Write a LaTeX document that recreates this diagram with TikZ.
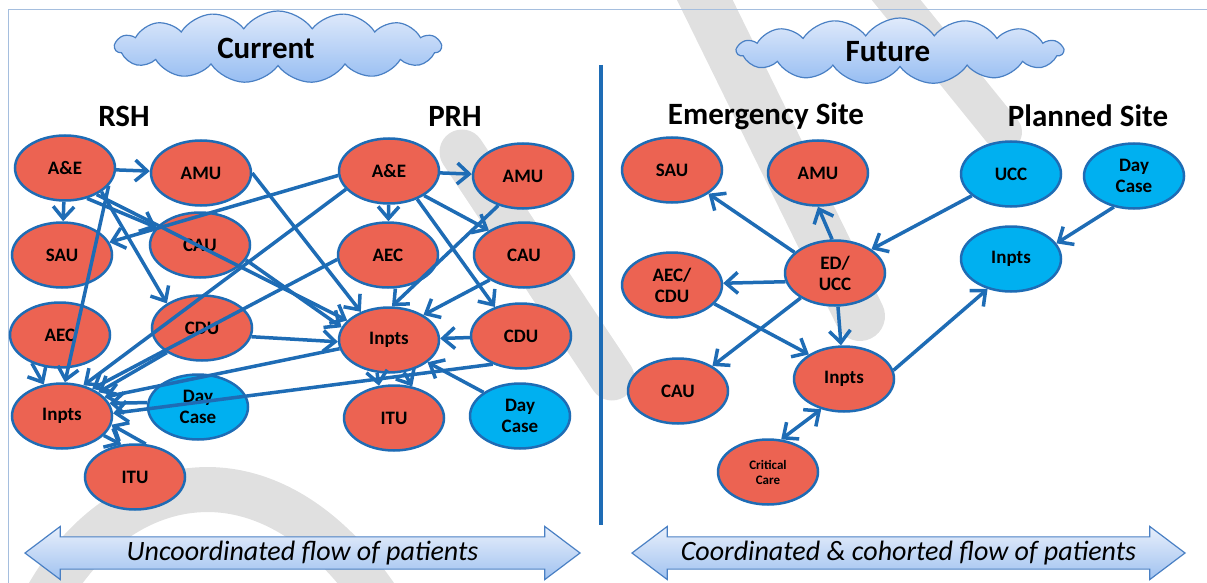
\documentclass[tikz,border=0pt]{standalone}
\usepackage{fontspec}
\setmainfont{Carlito}
\usetikzlibrary{shapes.geometric,shapes.symbols,shapes.arrows,arrows.meta}

\definecolor{unitred}{RGB}{236,99,82}
\definecolor{siteblue}{RGB}{0,176,240}
\definecolor{linkblue}{RGB}{30,108,181}
\definecolor{framegrey}{RGB}{165,190,222}
\definecolor{cloudtop}{RGB}{224,234,251}
\definecolor{cloudbottom}{RGB}{150,189,242}
\definecolor{cloudedge}{RGB}{74,128,196}
\definecolor{bandtop}{RGB}{232,239,251}
\definecolor{bandbottom}{RGB}{160,194,240}
\definecolor{markgrey}{RGB}{224,224,224}

\tikzset{
  unit/.style={ellipse, draw=linkblue, line width=2.5pt, fill=unitred,
    minimum width=100pt, minimum height=65pt, inner sep=0pt, align=center,
    font=\fontsize{19}{21}\selectfont\bfseries},
  siteunit/.style={unit, fill=siteblue},
  smallunit/.style={unit, font=\fontsize{13}{15}\selectfont\bfseries},
  flow/.style={draw=linkblue, line width=3.5pt,
    -{Straight Barb[length=12pt,width=21pt]}},
  twoway/.style={draw=linkblue, line width=3.5pt,
    {Straight Barb[length=12pt,width=21pt]}-{Straight Barb[length=12pt,width=21pt]}},
  heading/.style={font=\fontsize{31}{34}\selectfont\bfseries},
  cloudbox/.style={cloud, cloud puffs=15, cloud puff arc=110, aspect=5,
    draw=cloudedge, line width=1.2pt, top color=cloudtop,
    bottom color=cloudbottom, minimum width=326pt},
  flowband/.style={double arrow, double arrow tip angle=74,
    double arrow head extend=10pt, minimum width=53pt, inner ysep=3pt,
    draw=cloudedge, line width=1.2pt, top color=bandtop,
    bottom color=bandbottom, font=\fontsize{28}{30}\selectfont\itshape},
  watermark/.style={draw=markgrey, line cap=round}
}

\begin{document}
\begin{tikzpicture}[x=1pt,y=-1pt]
  \useasboundingbox (0,0) rectangle (1207,583);
  % watermark
  \draw[watermark, line width=45pt] (462,152) -- (612,378);
  \draw[watermark, line width=50pt] (695,-20) -- (860,316);
  \draw[watermark, line width=38pt] (880,-20) -- (1003,132);
  \draw[watermark, line width=45pt] (40,610) .. controls (110,470) and (270,430) .. (385,610);
  \draw[framegrey, line width=1pt] (8,583) -- (8,10) -- (1207,10);

  % titles
  \node[cloudbox, minimum height=72pt] (nowcloud) at (278,47) {};
  \node[heading] (nowtitle) at (266,48) {Current};
  \node[cloudbox, minimum height=66pt] (nextcloud) at (900,51) {};
  \node[heading] (nexttitle) at (888,52) {Future};
  \node[heading] (rshtitle) at (124,116) {RSH};
  \node[heading] (prhtitle) at (455,116) {PRH};
  \node[heading] (emtitle) at (766,116) {Emergency Site};
  \node[heading] (pltitle) at (1088,116) {Planned Site};

  % divider
  \coordinate (divtop) at (601,65);
  \coordinate (divfoot) at (601,525);
  \draw[linkblue, line width=4pt] (divtop) -- (divfoot);

  % RSH
  \node[unit] (rshAE) at (65,168) {A\&E};
  \node[unit] (rshAMU) at (201,173) {AMU};
  \node[unit] (rshSAU) at (62,255) {SAU};
  \node[unit] (rshCAU) at (200,245) {CAU};
  \node[unit] (rshAEC) at (60,335) {AEC};
  \node[unit] (rshCDU) at (202,328) {CDU};
  \node[unit] (rshIN) at (62,416) {Inpts};
  \node[siteunit] (rshDC) at (198,407) {Day\\Case};
  \node[unit] (rshITU) at (135,477) {ITU};

  % PRH
  \node[unit] (prhAE) at (389,171) {A\&E};
  \node[unit] (prhAMU) at (523,176) {AMU};
  \node[unit] (prhAEC) at (388,255) {AEC};
  \node[unit] (prhCAU) at (524,255) {CAU};
  \node[unit] (prhIN) at (389,340) {Inpts};
  \node[unit] (prhCDU) at (521,336) {CDU};
  \node[unit] (prhITU) at (394,418) {ITU};
  \node[siteunit] (prhDC) at (520,416) {Day\\Case};

  % emergency site
  \node[unit] (emSAU) at (672,170) {SAU};
  \node[unit] (emAMU) at (818,173) {AMU};
  \node[unit] (emAEC) at (672,285) {AEC/\\CDU};
  \node[unit] (emED) at (835,273) {ED/\\UCC};
  \node[unit] (emCAU) at (678,391) {CAU};
  \node[unit] (emIN) at (844,379) {Inpts};
  \node[smallunit] (emCC) at (768,472) {Critical\\Care};

  % planned site
  \node[siteunit] (plUCC) at (1011,174) {UCC};
  \node[siteunit] (plDC) at (1134,176) {Day\\Case};
  \node[siteunit] (plIN) at (1011,259) {Inpts};

  % current flows
  \draw[flow] (rshAE) -- (rshAMU);
  \draw[flow] (rshAE) -- (rshSAU);
  \draw[flow] (rshAE.-54) -- (rshCAU.158);
  \draw[flow] (rshAE.-33) -- (rshCDU.145);
  \draw[flow] (rshAE.-40) -- (prhIN.155);
  \draw[flow] (rshAE.-22) -- (rshIN.85);
  \draw[flow] (rshAEC.-135) -- (rshIN.120);
  \draw[flow] (rshAMU.east) -- (prhIN.135);
  \draw[flow] (rshCAU.-18) -- (prhIN.165);
  \draw[flow] (rshCDU.-10) -- (prhIN.182);
  \draw[flow] (prhAE.185) -- (rshSAU.15);
  \draw[flow] (prhAE.203) -- (rshIN.55);
  \draw[flow] (prhAEC.185) -- (rshIN.42);
  \draw[flow] (rshCDU.215) -- (rshIN.33);
  \draw[flow] (prhIN.190) -- (rshIN.24);
  \draw[flow] (rshDC.175) -- (rshIN.15);
  \draw[flow] (prhCDU.225) -- (rshIN.3);
  \draw[flow] (rshITU.72) -- (rshIN.-10);
  \draw[flow] (rshIN.-25) -- (rshITU.113);
  \draw[flow] (prhAE) -- (prhAMU);
  \draw[flow] (prhAE) -- (prhAEC);
  \draw[flow] (prhAE.-35) -- (prhCAU.145);
  \draw[flow] (prhAE.-45) -- (prhCDU.132);
  \draw[flow] (prhAMU.230) -- (prhIN.85);
  \draw[flow] (prhCAU.216) -- (prhIN.36);
  \draw[flow] (prhCDU) -- (prhIN);
  \draw[flow] (prhDC.147) -- (prhIN.-30);
  \draw[flow] (prhIN.-110) -- (prhITU.115);
  \draw[flow] (prhIN.-65) -- (prhITU.60);

  % future flows
  \draw[flow] (emED.153) -- (emSAU.-33);
  \draw[flow] (emED.95) -- (emAMU.-90);
  \draw[flow] (emED.190) -- (emAEC.2);
  \draw[flow] (emED.216) -- (emCAU.36);
  \draw[flow] (emAEC.-24) -- (emIN.145);
  \draw[flow] (emED.-85) -- (emIN.95);
  \draw[twoway] (emIN.-127) -- (emCC.68);
  \draw[flow] (emIN.10) -- (plIN.232);
  \draw[flow] (plUCC.209) -- (emED.33);
  \draw[flow] (plDC.237) -- (plIN.19);

  % bands
  \node[flowband, minimum height=555pt] (nowband) at (302.5,553)
    {Uncoordinated flow of patients};
  \node[flowband, minimum height=553pt] (nextband) at (908.5,553)
    {Coordinated \& cohorted flow of patients};
\end{tikzpicture}
\end{document}
